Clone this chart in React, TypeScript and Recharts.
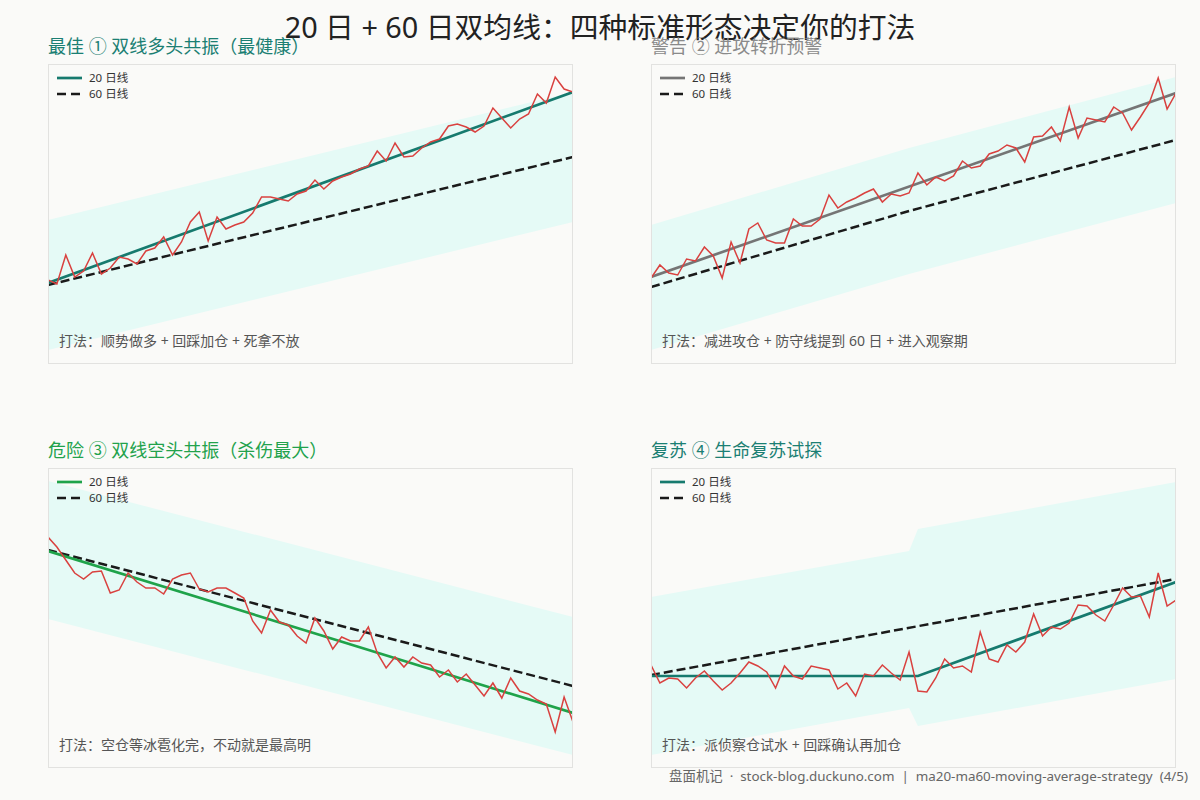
import React from 'react';
import { ComposedChart, Line, Area, XAxis, YAxis } from 'recharts';

// ---- data (price units; x = trading-day index 0..59) ----
const DAY_INDEX_MAX = 59;

const P1_PRICE = [
  108.4, 108.0, 110.9, 108.7, 109.3, 111.1, 109.0, 109.6, 110.7, 110.5,
  110.0, 111.3, 111.6, 112.7, 110.9, 112.2, 114.2, 115.2, 112.3, 114.7,
  113.5, 113.9, 114.2, 115.1, 116.7, 116.7, 116.5, 116.3, 117.0, 117.3,
  118.4, 117.5, 118.3, 118.7, 119.0, 119.5, 119.8, 121.3, 120.3, 122.1,
  120.7, 120.8, 121.6, 122.2, 122.5, 123.8, 124.0, 123.7, 123.2, 123.8,
  125.6, 124.6, 123.6, 124.5, 125.0, 127.0, 126.1, 128.7, 127.5, 127.2,
];
const P1_MA20: [number, number][] = [[0, 108.1], [59, 127.2]];
const P1_MA60: [number, number][] = [[0, 107.9], [59, 120.7]];
const P1_BAND: [number, number, number][] = [[0, 101.4, 114.4], [59, 114.2, 127.2]];

const P2_PRICE = [
  108.6, 109.9, 109.1, 108.9, 110.5, 110.3, 111.7, 110.8, 108.6, 112.2,
  110.1, 113.5, 114.1, 112.4, 112.1, 112.1, 114.5, 113.8, 113.8, 114.5,
  116.9, 115.6, 116.2, 116.6, 117.1, 117.5, 116.2, 117.0, 116.8, 117.1,
  119.1, 117.9, 118.7, 118.3, 118.8, 120.3, 119.6, 119.8, 121.0, 121.3,
  121.9, 121.6, 120.2, 122.7, 122.8, 123.7, 122.3, 125.7, 122.6, 124.6,
  124.4, 124.2, 125.7, 125.1, 123.4, 124.7, 126.1, 128.6, 125.5, 127.1,
];
const P2_MA20: [number, number][] = [[0, 108.7], [59, 127.1]];
const P2_MA60: [number, number][] = [[0, 107.7], [29, 115.3], [59, 122.4]];
const P2_BAND: [number, number, number][] = [[0, 101.4, 113.9], [29, 109.0, 121.6], [59, 116.1, 128.7]];

const P3_PRICE = [
  123.1, 122.1, 120.8, 119.5, 118.9, 119.6, 119.7, 117.5, 117.8, 119.5,
  118.6, 118.0, 118.0, 117.4, 118.9, 119.3, 119.5, 117.9, 117.6, 118.0,
  118.0, 117.5, 117.0, 114.7, 113.5, 115.8, 114.6, 114.3, 113.2, 112.5,
  115.0, 113.7, 111.9, 113.1, 112.7, 112.7, 114.1, 111.5, 110.0, 111.1,
  110.1, 111.1, 110.5, 110.3, 109.1, 109.8, 108.6, 109.4, 108.3, 107.2,
  108.5, 107.0, 109.0, 107.7, 107.4, 106.8, 106.4, 103.6, 107.1, 104.6,
];
const P3_MA20: [number, number][] = [[0, 121.7], [59, 105.5]];
const P3_MA60: [number, number][] = [[0, 121.8], [59, 108.2]];
const P3_BAND: [number, number, number][] = [[0, 114.9, 128.7], [59, 101.3, 115.1]];

const P4_PRICE = [
  110.3, 108.5, 109.0, 108.9, 108.0, 109.0, 109.7, 108.7, 107.8, 108.5,
  109.5, 110.6, 110.2, 109.6, 108.0, 110.2, 109.2, 108.9, 110.2, 110.0,
  109.8, 107.9, 108.5, 107.2, 109.4, 109.2, 110.3, 109.5, 108.8, 111.6,
  107.7, 107.6, 109.0, 110.9, 110.0, 110.2, 109.6, 113.6, 110.9, 110.6,
  112.3, 111.6, 112.6, 115.4, 113.2, 114.1, 113.9, 114.5, 116.3, 116.2,
  115.3, 114.7, 116.3, 118.0, 117.1, 117.2, 115.1, 119.5, 116.2, 116.8,
];
const P4_MA20: [number, number][] = [[0, 109.2], [30, 109.2], [59, 118.6]];
const P4_MA60: [number, number][] = [[0, 109.3], [59, 118.9]];
const P4_BAND: [number, number, number][] = [[0, 101.3, 117.1], [29, 106.0, 121.7], [30, 104.2, 123.9], [59, 108.9, 128.6]];

const Y_DOMAIN: [number, number] = [100, 130];

const MAIN_TITLE = '20 日 + 60 日双均线：四种标准形态决定你的打法';
const FOOTER = '盘面机记  ·  stock-blog.duckuno.com  |  ma20-ma60-moving-average-strategy  (4/5)';
const LEGEND_MA20 = '20 日线';
const LEGEND_MA60 = '60 日线';

const FONT = '"Noto Sans", "Noto Sans CJK SC", sans-serif';
const BG = '#fafaf8';
const BAND_FILL = '#e5faf6';
const PRICE_COLOR = '#d9413f';
const MA60_COLOR = '#1a1a1a';
const MA60_DASH = '9 4';

type Panel = {
  title: string;
  titleColor: string;
  maColor: string;
  note: string;
  price: number[];
  ma20: [number, number][];
  ma60: [number, number][];
  band: [number, number, number][];
  left: number;
  top: number;
};

const PANELS: Panel[] = [
  { title: '最佳 ① 双线多头共振（最健康）', titleColor: '#1b7f73', maColor: '#167a6e', note: '打法：顺势做多 + 回踩加仓 + 死拿不放', price: P1_PRICE, ma20: P1_MA20, ma60: P1_MA60, band: P1_BAND, left: 48, top: 64 },
  { title: '警告 ② 进攻转折预警', titleColor: '#8a8a8a', maColor: '#757575', note: '打法：减进攻仓 + 防守线提到 60 日 + 进入观察期', price: P2_PRICE, ma20: P2_MA20, ma60: P2_MA60, band: P2_BAND, left: 651, top: 64 },
  { title: '危险 ③ 双线空头共振（杀伤最大）', titleColor: '#22a24c', maColor: '#1fa34a', note: '打法：空仓等冰雹化完，不动就是最高明', price: P3_PRICE, ma20: P3_MA20, ma60: P3_MA60, band: P3_BAND, left: 48, top: 468 },
  { title: '复苏 ④ 生命复苏试探', titleColor: '#1b7f73', maColor: '#167a6e', note: '打法：派侦察仓试水 + 回踩确认再加仓', price: P4_PRICE, ma20: P4_MA20, ma60: P4_MA60, band: P4_BAND, left: 651, top: 468 },
];

const W = 525;
const H = 300;

function PanelChart({ p }: { p: Panel }) {
  const priceRows = p.price.map((v, i) => ({ x: i, price: v }));
  const ma20Rows = p.ma20.map(([x, v]) => ({ x, ma20: v }));
  const ma60Rows = p.ma60.map(([x, v]) => ({ x, ma60: v }));
  const bandRows = p.band.map(([x, lo, hi]) => ({ x, band: [lo, hi] }));
  return (
    <>
      <div style={{ position: 'absolute', left: p.left, top: p.top - 29, fontSize: 18, color: p.titleColor, whiteSpace: 'nowrap', lineHeight: '22px' }}>
        {p.title}
      </div>
      <div style={{ position: 'absolute', left: p.left, top: p.top, width: W, height: H }}>
        <ComposedChart width={W} height={H} data={priceRows} margin={{ top: 0, right: 0, bottom: 0, left: 0 }}>
          <XAxis dataKey="x" type="number" domain={[0, DAY_INDEX_MAX]} hide allowDataOverflow />
          <YAxis type="number" domain={Y_DOMAIN} hide allowDataOverflow />
          <Area data={bandRows} dataKey="band" type="linear" stroke="none" fill={BAND_FILL} fillOpacity={1} isAnimationActive={false} dot={false} activeDot={false} />
          <Line data={ma60Rows} dataKey="ma60" type="linear" stroke={MA60_COLOR} strokeWidth={2.5} strokeDasharray={MA60_DASH} dot={false} activeDot={false} isAnimationActive={false} />
          <Line data={ma20Rows} dataKey="ma20" type="linear" stroke={p.maColor} strokeWidth={2.7} dot={false} activeDot={false} isAnimationActive={false} />
          <Line dataKey="price" type="linear" stroke={PRICE_COLOR} strokeWidth={1.5} dot={false} activeDot={false} isAnimationActive={false} />
        </ComposedChart>
        <div style={{ position: 'absolute', left: 9, top: 6, fontSize: 11.5, color: '#333', lineHeight: '16px' }}>
          <div style={{ display: 'flex', alignItems: 'center' }}>
            <svg width={26} height={16}><line x1={0} y1={8} x2={25} y2={8} stroke={p.maColor} strokeWidth={2.7} /></svg>
            <span style={{ marginLeft: 6 }}>{LEGEND_MA20}</span>
          </div>
          <div style={{ display: 'flex', alignItems: 'center' }}>
            <svg width={26} height={16}><line x1={0} y1={8} x2={25} y2={8} stroke={MA60_COLOR} strokeWidth={2.5} strokeDasharray="9 5" /></svg>
            <span style={{ marginLeft: 6 }}>{LEGEND_MA60}</span>
          </div>
        </div>
        <div style={{ position: 'absolute', left: 11, top: 267, fontSize: 14, color: '#555', whiteSpace: 'nowrap', lineHeight: '20px' }}>
          {p.note}
        </div>
        <div style={{ position: 'absolute', left: 0, top: 0, width: W, height: H, boxSizing: 'border-box', border: '1px solid #e2e2e0', pointerEvents: 'none' }} />
      </div>
    </>
  );
}

export default function App() {
  return (
    <div style={{ position: 'absolute', left: 0, top: 0, width: 1200, height: 800, background: BG, fontFamily: FONT, overflow: 'hidden' }}>
      <div style={{ position: 'absolute', left: 0, top: 8, width: 1200, textAlign: 'center', fontSize: 28.8, color: '#222', lineHeight: '38px' }}>
        {MAIN_TITLE}
      </div>
      {PANELS.map((p) => (
        <PanelChart key={p.title} p={p} />
      ))}
      <div style={{ position: 'absolute', right: 12, top: 766, fontSize: 13.4, color: '#666', whiteSpace: 'pre', lineHeight: '20px' }}>
        {FOOTER}
      </div>
    </div>
  );
}
